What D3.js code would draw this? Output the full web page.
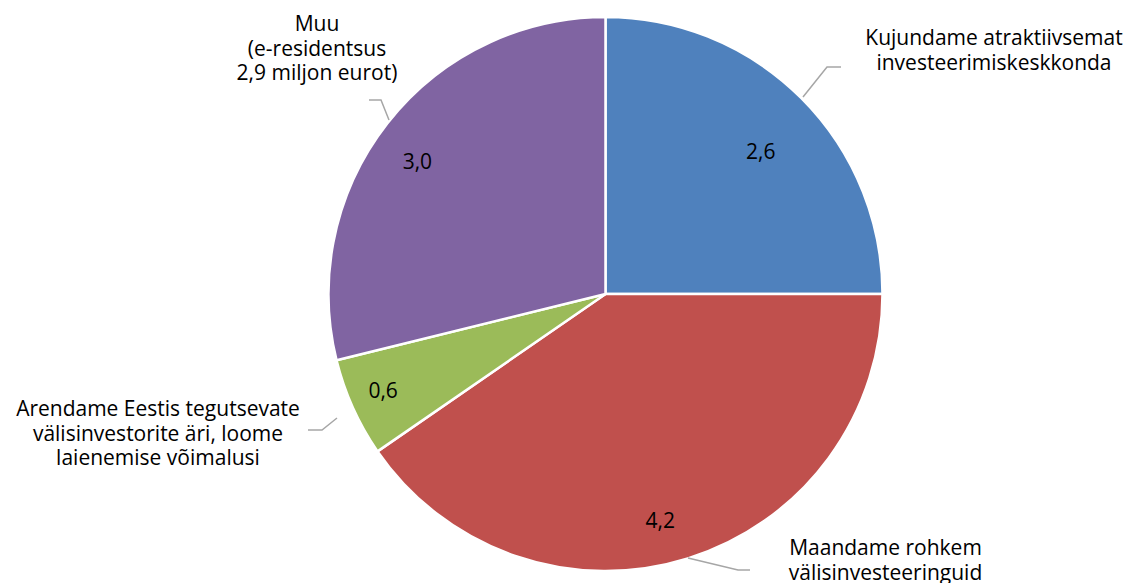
<!DOCTYPE html>
<html><head><meta charset="utf-8">
<script src="https://cdn.jsdelivr.net/npm/d3@7"></script>
<style>
html,body{margin:0;padding:0;background:#fff;}
svg text{font-family:"Open Sans",sans-serif;fill:#000;}
</style></head>
<body><svg id="c" width="1131" height="583"></svg>
<script>
const categories = [
  "Kujundame atraktiivsemat investeerimiskeskkonda",
  "Maandame rohkem välisinvesteeringuid",
  "Arendame Eestis tegutsevate välisinvestorite äri, loome laienemise võimalusi",
  "Muu (e-residentsus 2,9 miljon eurot)"
];
const values = [2.6, 4.2, 0.6, 3.0];
const valueLabels = ["2,6", "4,2", "0,6", "3,0"];
const labelLines = [
  ["Kujundame atraktiivsemat", "investeerimiskeskkonda"],
  ["Maandame rohkem", "välisinvesteeringuid"],
  ["Arendame Eestis tegutsevate", "välisinvestorite äri, loome", "laienemise võimalusi"],
  ["Muu", "(e-residentsus", "2,9 miljon eurot)"]
];
const colors = ["#4F81BD", "#C0504D", "#9BBB59", "#8064A2"];

// layout (label radius factors / angle nudges, category label positions, leader elbows)
const cx = 605.5, cy = 294, R = 277;
const valPos = [{k: 0.76, da: 2.5}, {k: 0.84, da: 3.7}, {k: 0.875, da: 0.8}, {k: 0.83, da: -3}];
const layout = [
  {tx: 994, ty: 45, line: [[803,97],[827,67],[841,67]]},
  {tx: 885.5, ty: 555, line: [[688,558],[738,570],[750,570]]},
  {tx: 158, ty: 416, line: [[337,418],[322,430],[308,430]]},
  {tx: 317, ty: 31, line: [[389,120],[381,100],[369,100]]}
];

const svg = d3.select("#c");
const g = svg.append("g").attr("transform", `translate(${cx},${cy})`);
const pie = d3.pie().sort(null).value(d => d)(values);
const arc = d3.arc().innerRadius(0).outerRadius(R);

g.selectAll("path.slice").data(pie).join("path")
  .attr("class","slice")
  .attr("d", arc)
  .attr("fill", (d,i) => colors[i])
  .attr("stroke", "#fff").attr("stroke-width", 2.5).attr("stroke-linejoin","round");

g.selectAll("text.val").data(pie).join("text")
  .attr("class","val")
  .attr("transform", (d,i) => {
    const a = (d.startAngle + d.endAngle) / 2 + valPos[i].da * Math.PI / 180;
    const r = R * valPos[i].k;
    return `translate(${r*Math.sin(a)},${-r*Math.cos(a)})`;
  })
  .attr("text-anchor","middle").attr("dy","0.35em")
  .style("font-size","21px")
  .text((d,i) => valueLabels[i]);

const line = d3.line();
svg.selectAll("path.leader").data(layout).join("path")
  .attr("class","leader")
  .attr("d", d => line(d.line))
  .attr("fill","none").attr("stroke","#A6A6A6").attr("stroke-width",1.5);

layout.forEach((l,i) => {
  const t = svg.append("text")
    .attr("x", l.tx).attr("y", l.ty)
    .attr("text-anchor", "middle")
    .style("font-size","21px");
  labelLines[i].forEach((s,j) => {
    t.append("tspan").attr("x", l.tx).attr("dy", j === 0 ? 0 : 24.5).text(s);
  });
});
</script>
</body></html>
